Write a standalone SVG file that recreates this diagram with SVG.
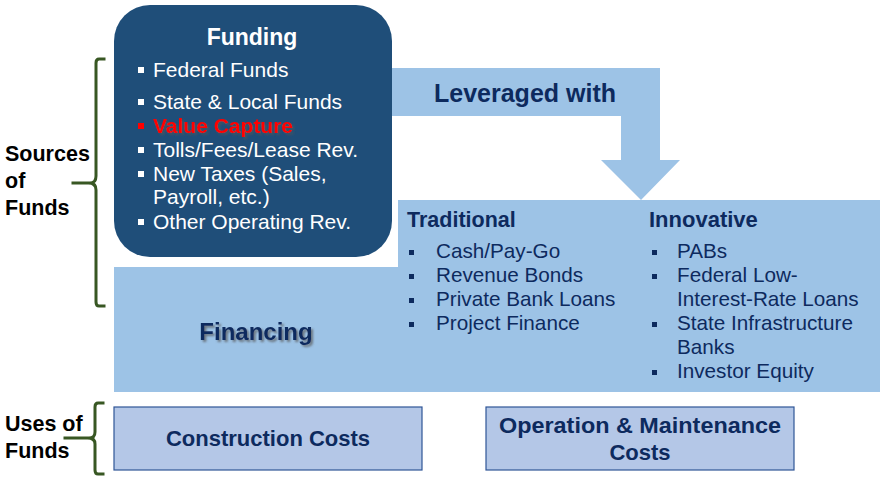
<svg xmlns="http://www.w3.org/2000/svg" width="886" height="478" viewBox="0 0 886 478">
<defs>
<style>
text{font-family:"Liberation Sans",Arial,sans-serif;}
.w{fill:#ffffff;font-size:21px;}
.n{fill:#0d2a5e;font-size:20.7px;}
.nb{fill:#0d2a5e;font-weight:bold;}
.lbl{fill:#000000;font-weight:bold;font-size:21.5px;}
.brace{fill:none;stroke:#385723;stroke-width:3;stroke-linecap:square;stroke-linejoin:round;}
.wb{fill:#ffffff;}
.nbul{fill:#0d2a5e;}
.cost{fill:#b4c7e7;stroke:#2f5597;stroke-width:1.2;}
</style>
<filter id="sh" x="-10%" y="-30%" width="130%" height="170%">
<feDropShadow dx="2" dy="2" stdDeviation="1.2" flood-color="#555555" flood-opacity="0.7"/>
</filter>
</defs>
<rect width="886" height="478" fill="#ffffff"/>

<g id="connectors">
<polygon id="leveraged-arrow" points="391,68 660,68 660,160 680,160 641,200 601,160 621,160 621,116 391,116" fill="#9dc3e6"/>
<text x="525" y="102" text-anchor="middle" class="nb" font-size="25">Leveraged with</text>
</g>

<g id="financing">
<polygon points="398,200 880,200 880,392 114,392 114,267 398,267" fill="#9dc3e6"/>
<text x="256" y="340" text-anchor="middle" class="nb" font-size="24" filter="url(#sh)">Financing</text>
<text x="407" y="227" class="nb" font-size="21.5">Traditional</text>
<rect x="409" y="250" width="5" height="5" class="nbul"/>
<text x="436" y="258" class="n">Cash/Pay-Go</text>
<rect x="409" y="274" width="5" height="5" class="nbul"/>
<text x="436" y="282" class="n">Revenue Bonds</text>
<rect x="409" y="298" width="5" height="5" class="nbul"/>
<text x="436" y="306" class="n">Private Bank Loans</text>
<rect x="409" y="322" width="5" height="5" class="nbul"/>
<text x="436" y="330" class="n">Project Finance</text>
<text x="649" y="227" class="nb" font-size="22">Innovative</text>
<rect x="652" y="250" width="5" height="5" class="nbul"/>
<text x="677" y="258" class="n">PABs</text>
<rect x="652" y="274" width="5" height="5" class="nbul"/>
<text x="677" y="282" class="n">Federal Low-</text>
<text x="677" y="306" class="n">Interest-Rate Loans</text>
<rect x="652" y="322" width="5" height="5" class="nbul"/>
<text x="677" y="330" class="n">State Infrastructure</text>
<text x="677" y="354" class="n">Banks</text>
<rect x="652" y="370" width="5" height="5" class="nbul"/>
<text x="677" y="378" class="n">Investor Equity</text>
</g>

<g id="funding">
<rect x="114" y="5" width="278" height="252" rx="36" fill="#1f4e79"/>
<text x="252" y="45" text-anchor="middle" fill="#ffffff" font-weight="bold" font-size="23">Funding</text>
<rect x="138" y="67" width="6" height="6" class="wb"/>
<text x="153" y="77" class="w">Federal Funds</text>
<rect x="138" y="99" width="6" height="6" class="wb"/>
<text x="153" y="109" class="w">State &amp; Local Funds</text>
<rect x="138" y="123" width="6" height="6" fill="#ff0000"/>
<text x="153" y="133" fill="#ff0000" font-weight="bold" font-size="21" filter="url(#sh)">Value Capture</text>
<rect x="138" y="147" width="6" height="6" class="wb"/>
<text x="153" y="157" class="w">Tolls/Fees/Lease Rev.</text>
<rect x="138" y="171" width="6" height="6" class="wb"/>
<text x="153" y="181" class="w">New Taxes (Sales,</text>
<text x="153" y="204" class="w">Payroll, etc.)</text>
<rect x="138" y="219" width="6" height="6" class="wb"/>
<text x="153" y="229" class="w">Other Operating Rev.</text>
</g>

<g id="construction">
<rect x="114" y="407" width="308" height="63" class="cost"/>
<text x="268" y="446" text-anchor="middle" class="nb" font-size="22">Construction Costs</text>
</g>

<g id="operation">
<rect x="486" y="407" width="308" height="63" class="cost"/>
<text x="640" y="433" text-anchor="middle" class="nb" font-size="22" textLength="282" lengthAdjust="spacingAndGlyphs">Operation &amp; Maintenance</text>
<text x="640" y="460" text-anchor="middle" class="nb" font-size="22">Costs</text>
</g>

<g id="sources-label">
<path class="brace" d="M104,59 L99,59 Q96,59 96,63 L96,176 Q96,183 90,183 L73,183 M90,183 Q96,183 96,190 L96,302 Q96,306 99,306 L104,306"/>
<text x="5" y="161" class="lbl">Sources</text>
<text x="5" y="188" class="lbl">of</text>
<text x="5" y="215" class="lbl">Funds</text>
</g>

<g id="uses-label">
<path class="brace" d="M103,403 L98,403 Q95,403 95,407 L95,432 Q95,438 89,438 L65,438 M89,438 Q95,438 95,444 L95,470 Q95,474 98,474 L103,474"/>
<text x="5" y="431" class="lbl">Uses of</text>
<text x="5" y="458" class="lbl">Funds</text>
</g>
</svg>
